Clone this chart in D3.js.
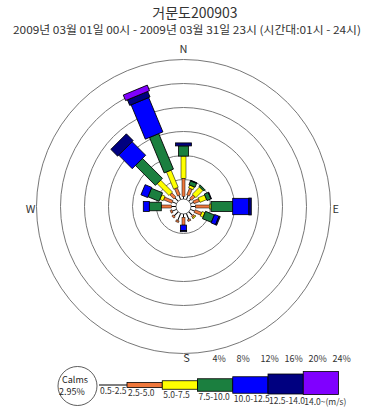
<!DOCTYPE html>
<html>
<head>
<meta charset="utf-8">
<script src="https://cdn.jsdelivr.net/npm/d3@7"></script>
<style>
  html, body { margin: 0; padding: 0; background: #fff; }
  svg { display: block; }
  text { font-family: "Noto Sans CJK KR", "Noto Sans", sans-serif; fill: #222; }
</style>
</head>
<body>
<svg id="chart" width="365" height="414"></svg>
<script>
// Wind directions, clockwise from north
const directions = ["N","NNE","NE","ENE","E","ESE","SE","SSE","S","SSW","SW","WSW","W","WNW","NW","NNW"];

// Speed classes (m/s)
const speedClasses = ["0.5-2.5","2.5-5.0","5.0-7.5","7.5-10.0","10.0-12.5","12.5-14.0","14.0~(m/s)"];
const classColors = ["#000000","#f0783c","#ffff00","#1b7f3f","#0000ff","#000080","#8000ff"];

// Frequency (%) of each speed class per direction, one array per class
const freq_0_5  = [1.2, 1.5, 1.2, 1.3, 1.5, 1.5, 1.6, 1.8, 1.3, 2.0, 1.7, 1.5, 1.5, 1.5, 1.5, 1.5];
const freq_2_5  = [3.0, 1.2, 0.8, 1.0, 2.3, 1.2, 0.3, 0.3, 1.3, 0.3, 0.3, 0.3, 1.7, 1.5, 1.0, 1.3];
const freq_5_0  = [3.7, 0.5, 1.7, 1.2, 0.3, 0.5, 0.2, 0.0, 0.0, 0.0, 0.0, 0.0, 0.0, 0.6, 2.8, 3.1];
const freq_7_5  = [1.7, 0.7, 0.3, 0.7, 3.6, 1.6, 0.0, 0.0, 0.0, 0.0, 0.0, 0.0, 2.0, 2.0, 4.7, 6.4];
const freq_10_0 = [0.0, 0.0, 0.0, 0.0, 2.7, 0.8, 0.0, 0.0, 0.9, 0.0, 0.0, 0.0, 1.0, 1.2, 3.2, 6.2];
const freq_12_5 = [0.5, 0.1, 0.0, 0.1, 0.4, 0.2, 0.0, 0.0, 0.2, 0.0, 0.0, 0.0, 0.0, 0.0, 1.6, 1.0];
const freq_14_0 = [0.0, 0.0, 0.0, 0.0, 0.0, 0.0, 0.0, 0.0, 0.0, 0.0, 0.0, 0.0, 0.0, 0.0, 0.0, 1.0];
const freqByClass = [freq_0_5, freq_2_5, freq_5_0, freq_7_5, freq_10_0, freq_12_5, freq_14_0];

const calmPct = 2.95;
const ringTicks = [4, 8, 12, 16, 20, 24];

const titleText = "거문도200903";
const subtitleText = "2009년 03월 01일 00시 - 2009년 03월 31일 23시 (시간대:01시 - 24시)";

// ---- layout ----
const svg = d3.select("#chart");
const cx = 183.5, cy = 206.5;
const calmR = 7.5;
const r = d3.scaleLinear().domain([0, 24]).range([3, 147]);
// each class has a nominal width, narrowed near the centre so spokes don't collide
const classWidth = [1, 3, 5, 10, 19, 22, 26];
const segWidth = s => s.cls === 0 ? 1 : Math.max(2, Math.min(classWidth[s.cls], 0.25 * r(s.r1)));
const angle = d3.scalePoint().domain(directions).range([0, 337.5]);

// titles
svg.append("text").attr("x", 195).attr("y", 18).attr("text-anchor", "middle")
  .style("font-size", "14px").style("fill", "#333").text(titleText);
svg.append("text").attr("x", 13).attr("y", 34)
  .attr("textLength", 348).attr("lengthAdjust", "spacingAndGlyphs")
  .style("font-size", "11px").style("fill", "#333").text(subtitleText);

// rings
const plot = svg.append("g").attr("transform", `translate(${cx},${cy})`);
plot.selectAll("circle.ring").data(ringTicks).join("circle")
  .attr("class", "ring").attr("r", d => r(d))
  .attr("fill", "none").attr("stroke", "#777").attr("stroke-width", 1);

// bars: stacked rectangles along each direction
const stacked = directions.map((dir, i) => {
  let cum = 0;
  return freqByClass.map((arr, j) => {
    const v = arr[i];
    const seg = { dir, cls: j, r0: cum, r1: cum + v, v };
    cum += v;
    return seg;
  }).filter(s => s.v > 0);
});

const spokes = plot.selectAll("g.spoke").data(stacked).join("g")
  .attr("class", "spoke")
  .attr("transform", (d, i) => `rotate(${angle(directions[i])})`);

spokes.selectAll("rect").data(d => d).join("rect")
  .attr("x", s => -segWidth(s) / 2)
  .attr("y", s => -r(s.r1))
  .attr("width", s => segWidth(s))
  .attr("height", s => r(s.r1) - r(s.r0))
  .attr("fill", s => classColors[s.cls])
  .attr("stroke", s => s.cls === 0 ? "none" : "#000")
  .attr("stroke-width", s => s.cls <= 2 ? 0.5 : 0.8);

// calm circle
plot.append("circle").attr("r", calmR).attr("fill", "#fff").attr("stroke", "#444").attr("stroke-width", 0.8);

// compass labels
const compass = [
  { t: "N", x: 0, y: -r(24) - 7, a: "middle" },
  { t: "S", x: 3, y: r(24) + 8, a: "middle" },
  { t: "W", x: -r(24) - 1, y: 6, a: "end" },
  { t: "E", x: r(24) + 2, y: 6, a: "start" }
];
plot.selectAll("text.compass").data(compass).join("text")
  .attr("class", "compass").attr("x", d => d.x).attr("y", d => d.y)
  .attr("text-anchor", d => d.a).style("font-size", "11px").style("fill", "#333").text(d => d.t);

// ring percentage labels along the bottom
plot.selectAll("text.pct").data(ringTicks).join("text")
  .attr("class", "pct").attr("x", d => r(d) + 2).attr("y", r(24) + 8)
  .attr("text-anchor", "start").style("font-size", "9px").style("fill", "#333").text(d => d + "%");

// legend
const leg = svg.append("g");
leg.append("circle").attr("cx", 77.5).attr("cy", 386).attr("r", 19.5)
  .attr("fill", "#fff").attr("stroke", "#333").attr("stroke-width", 0.8);
leg.append("text").attr("x", 75).attr("y", 383).attr("text-anchor", "middle").style("font-size", "9px").text("Calms");
leg.append("text").attr("x", 72).attr("y", 395).attr("text-anchor", "middle").style("font-size", "9px").text(calmPct.toFixed(2) + "%");

// first class is a plain line, the others are boxes of growing height
const legX = d3.scaleBand().domain(speedClasses.slice(1)).range([127, 338.5]).padding(0);
const keyX0 = c => c === speedClasses[0] ? 99 : legX(c);
const keyX1 = c => c === speedClasses[0] ? 127 : legX(c) + legX.bandwidth();
const legH = [1, 5, 8.5, 12.5, 16.5, 20, 23];
const legCy = 385;
leg.selectAll("rect.key").data(speedClasses).join("rect")
  .attr("class", "key")
  .attr("x", d => keyX0(d)).attr("y", (d, i) => legCy - legH[i] / 2 - (i >= 5 ? i - 4 : 0))
  .attr("width", d => keyX1(d) - keyX0(d)).attr("height", (d, i) => legH[i])
  .attr("fill", (d, i) => classColors[i]).attr("stroke", "#000").attr("stroke-width", (d, i) => i === 0 ? 0 : 0.8);
leg.selectAll("text.key").data(speedClasses).join("text")
  .attr("class", "key")
  .attr("x", d => keyX0(d) + 1).attr("y", (d, i) => legCy + legH[i] / 2 + 8.5)
  .style("font-size", "8.5px").style("fill", "#333").text(d => d);
</script>
</body>
</html>
